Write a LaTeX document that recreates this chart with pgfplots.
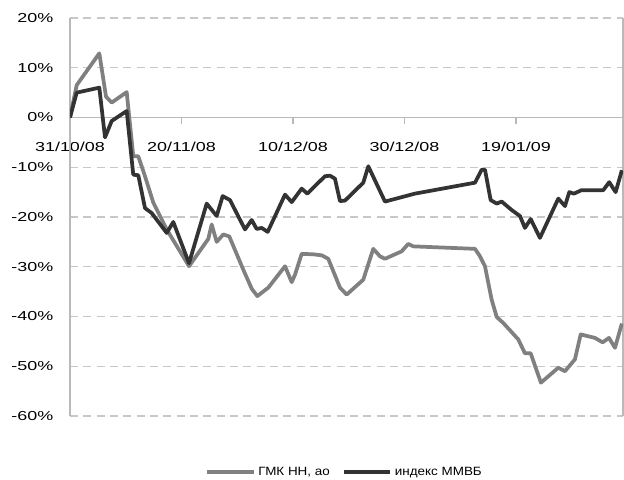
\documentclass[border=0pt]{standalone}
\usepackage{fontspec}
\setmainfont{Liberation Sans}
\newfontfamily\tickfont{Liberation Sans}[FakeStretch=1.38]
\newfontfamily\legfont{Liberation Sans}[FakeStretch=1.12]
\usepackage{pgfplots}
\pgfplotsset{compat=1.18}
\definecolor{gmk}{RGB}{128,128,128}
\definecolor{mmvb}{RGB}{51,51,51}
\definecolor{gridc}{RGB}{200,200,200}
\definecolor{axc}{RGB}{185,185,185}
\begin{document}
\begin{tikzpicture}[x=1pt,y=1pt]
\path[use as bounding box] (0,0) rectangle (468,359.25);
\pgfplotsset{common/.style={at={(52.5pt,47.25pt)}, anchor=south west, scale only axis,
  width=414.75pt, height=298.5pt, xmin=0, xmax=99.2, ymin=-60, ymax=20,
  /pgf/number format/assume math mode=true}}
\begin{axis}[common, axis x line=middle, axis y line=none,
  x axis line style={-, axc, line width=0.8pt},
  xtick={0,20,40,60,80},
  xticklabels={31/10/08,20/11/08,10/12/08,30/12/08,19/01/09},
  tick align=outside, major tick length=5pt,
  xtick style={axc, line width=0.8pt},
  ytick=\empty,
  xticklabel style={font=\tickfont\fontsize{9.75}{11}\selectfont, yshift=-10pt}]
\end{axis}
\begin{axis}[common, axis x line=none, axis y line=box,
  y axis line style={axc, line width=0.8pt},
  ytick={-60,-50,-40,-30,-20,-10,10,20},
  yticklabels={-60\%,-50\%,-40\%,-30\%,-20\%,-10\%,10\%,20\%},
  extra y ticks={0}, extra y tick labels={0\%},
  extra y tick style={ymajorgrids=false},
  ytick pos=left, major tick length=0pt,
  ymajorgrids, major grid style={gridc, line width=0.8pt, dash pattern=on 6pt off 4pt},
  yticklabel style={font=\tickfont\fontsize{9.75}{11}\selectfont, xshift=-9pt},
  legend style={at={(0.497,-0.1407)}, anchor=center, draw=none, fill=none,
    legend columns=2, font=\legfont\fontsize{9}{10}\selectfont,
    /tikz/every even column/.append style={column sep=7pt}},
  legend image code/.code={\draw[#1] (0pt,0pt) -- (35pt,0pt);},
  line join=round]
\addplot[gmk, line width=2.8pt] coordinates {
(0,0) (1.2,6.5) (5.26,12.9) (6.46,4.2) (7.48,3.0) (10.17,5.1) (11.35,-7.8) (12.25,-7.8)
(13.45,-11.8) (14.94,-17.1) (17.35,-22.5) (21.35,-29.9) (24.81,-24.4) (25.42,-21.5)
(26.31,-25) (27.50,-23.5) (28.57,-23.9) (31.09,-30.6) (32.59,-34.4) (33.60,-35.9)
(35.57,-34.2) (38.57,-29.9) (39.77,-33.1) (40.36,-31.6) (41.56,-27.4) (43.64,-27.5)
(45.15,-27.7) (46.33,-28.4) (48.43,-34.2) (49.63,-35.6) (52.61,-32.6) (54.40,-26.4)
(55.61,-27.9) (56.50,-28.4) (59.50,-26.9) (60.68,-25.4) (61.58,-25.9) (72.65,-26.4)
(73.54,-27.9) (74.44,-29.9) (75.64,-36.6) (76.54,-40.1) (77.72,-41.3) (80.41,-44.6)
(81.61,-47.4) (82.64,-47.4) (83.23,-49.3) (84.48,-53.3) (87.59,-50.3) (88.79,-51)
(90.58,-48.6) (91.61,-43.6) (94.17,-44.3) (95.55,-45.2) (96.68,-44.3) (97.76,-46.3)
(99,-41.4)};
\addlegendentry{ГМК НН, ао}
\addplot[mmvb, line width=2.8pt] coordinates {
(0,0) (1.2,5) (5.26,6) (6.28,-4) (7.48,-0.7) (10.17,1.3) (11.35,-11.5) (12.25,-11.6)
(13.45,-18.2) (14.65,-19.2) (17.35,-23.2) (18.53,-21) (21.35,-29.3) (24.52,-17.3)
(26.31,-19.8) (27.39,-15.8) (28.70,-16.6) (31.39,-22.5) (32.59,-20.6) (33.49,-22.4)
(34.39,-22.2) (35.46,-23) (38.57,-15.5) (39.77,-17) (41.56,-14.3) (42.57,-15.3)
(45.74,-11.8) (46.64,-11.7) (47.53,-12.3) (48.43,-16.8) (49.33,-16.7) (52.61,-13.1)
(53.51,-9.8) (56.50,-16.9) (61.88,-15.3) (72.65,-13.1) (73.85,-10.5) (74.44,-10.5)
(75.46,-16.6) (76.54,-17.3) (77.44,-16.9) (79.23,-18.6) (80.72,-19.8) (81.61,-22.2)
(82.64,-20.4) (84.30,-24.2) (87.59,-16.3) (88.79,-17.8) (89.56,-15) (90.40,-15.3)
(91.78,-14.6) (95.66,-14.6) (96.73,-13) (97.88,-15) (99,-10.6)};
\addlegendentry{индекс ММВБ}
\end{axis}
\end{tikzpicture}
\end{document}
